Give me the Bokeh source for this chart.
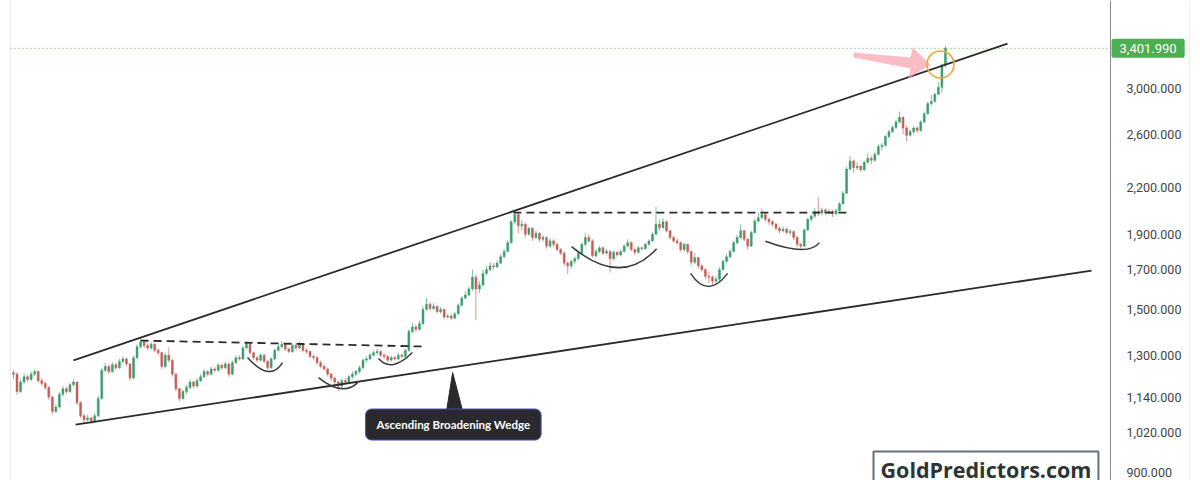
import numpy as np
from bokeh.plotting import figure
from bokeh.models import (ColumnDataSource, Range1d, FixedTicker,
                          NumeralTickFormatter, Span, Label)
from bokeh.embed import file_html
from bokeh.resources import INLINE

# ---- Gold (XAU/USD), two-week candles, 2015 -> April 2025 ----
first_open = 1230
close = [
    1225, 1160, 1195, 1215, 1205, 1225, 1235, 1200, 1190, 1175,
    1140, 1090, 1105, 1150, 1170, 1160, 1185, 1195, 1120, 1075,
    1062, 1068, 1058, 1075, 1135, 1240, 1255, 1235, 1262, 1250,
    1275, 1285, 1265, 1210, 1290, 1335, 1355, 1340, 1330, 1345,
    1320, 1310, 1255, 1300, 1280, 1225, 1170, 1135, 1160, 1175,
    1195, 1180, 1200, 1215, 1235, 1225, 1245, 1240, 1260, 1250,
    1265, 1225, 1270, 1290, 1285, 1330, 1345, 1310, 1290, 1280,
    1300, 1275, 1250, 1285, 1320, 1335, 1345, 1325, 1315, 1340,
    1330, 1345, 1320, 1315, 1295, 1290, 1270, 1255, 1245, 1225,
    1210, 1195, 1180, 1200, 1195, 1215, 1225, 1235, 1250, 1280,
    1285, 1300, 1310, 1315, 1300, 1295, 1280, 1290, 1285, 1300,
    1295, 1320, 1400, 1420, 1410, 1435, 1500, 1525, 1505, 1515,
    1490, 1500, 1465, 1470, 1460, 1480, 1520, 1555, 1570, 1600,
    1660, 1600, 1620, 1680, 1700, 1720, 1715, 1735, 1770, 1800,
    1850, 1975, 2020, 1950, 1960, 1900, 1935, 1880, 1905, 1870,
    1880, 1830, 1860, 1840, 1810, 1790, 1735, 1720, 1745, 1760,
    1790, 1840, 1880, 1860, 1775, 1800, 1820, 1790, 1800, 1760,
    1795, 1780, 1800, 1830, 1850, 1810, 1795, 1820, 1815, 1840,
    1860, 1900, 1960, 1940, 1975, 1920, 1880, 1860, 1850, 1810,
    1840, 1800, 1740, 1765, 1720, 1700, 1665, 1660, 1640, 1650,
    1700, 1745, 1770, 1800, 1850, 1880, 1920, 1870, 1830, 1910,
    1980, 2000, 2020, 1990, 1975, 1960, 1935, 1920, 1930, 1910,
    1915, 1880, 1840, 1830, 1925, 1990, 2010, 2040, 2030, 2050,
    2030, 2040, 2025, 2045, 2090, 2160, 2330, 2390, 2340, 2350,
    2325, 2380, 2410, 2395, 2440, 2500, 2510, 2580, 2620, 2655,
    2700, 2740, 2650, 2590, 2620, 2650, 2630, 2700, 2770, 2860,
    2880, 2945, 3010, 3230, 3401.99,
]
high = [
    1240, 1232, 1205, 1228, 1222, 1235, 1245, 1240, 1210, 1198,
    1180, 1145, 1115, 1158, 1180, 1178, 1192, 1205, 1198, 1125,
    1082, 1078, 1072, 1085, 1145, 1250, 1268, 1262, 1272, 1270,
    1285, 1295, 1290, 1270, 1298, 1345, 1372, 1362, 1350, 1355,
    1350, 1328, 1315, 1310, 1332, 1285, 1230, 1175, 1168, 1185,
    1205, 1200, 1210, 1225, 1245, 1240, 1255, 1252, 1268, 1265,
    1275, 1270, 1278, 1298, 1300, 1338, 1357, 1350, 1315, 1295,
    1308, 1305, 1280, 1292, 1328, 1345, 1358, 1350, 1332, 1348,
    1350, 1358, 1350, 1328, 1320, 1302, 1295, 1278, 1262, 1250,
    1230, 1215, 1200, 1208, 1210, 1222, 1235, 1242, 1258, 1288,
    1295, 1310, 1320, 1326, 1320, 1308, 1300, 1298, 1296, 1310,
    1308, 1328, 1410, 1438, 1430, 1448, 1515, 1555, 1535, 1530,
    1520, 1512, 1505, 1480, 1478, 1488, 1528, 1565, 1590, 1612,
    1700, 1675, 1640, 1700, 1720, 1740, 1735, 1750, 1785, 1815,
    1865, 1985, 2050, 2030, 1985, 1970, 1945, 1940, 1920, 1912,
    1895, 1885, 1875, 1870, 1850, 1820, 1800, 1745, 1755, 1770,
    1800, 1850, 1905, 1900, 1870, 1812, 1830, 1828, 1815, 1805,
    1805, 1800, 1812, 1840, 1870, 1858, 1815, 1830, 1828, 1848,
    1870, 1910, 2070, 1990, 1998, 1985, 1925, 1890, 1875, 1858,
    1850, 1845, 1805, 1790, 1770, 1728, 1708, 1690, 1670, 1665,
    1712, 1755, 1785, 1810, 1860, 1895, 1960, 1925, 1878, 1920,
    1995, 2035, 2060, 2030, 2000, 1985, 1968, 1945, 1945, 1938,
    1930, 1922, 1888, 1850, 1935, 2000, 2020, 2060, 2135, 2065,
    2060, 2055, 2048, 2060, 2100, 2175, 2345, 2430, 2400, 2380,
    2360, 2390, 2450, 2430, 2460, 2520, 2530, 2590, 2635, 2672,
    2720, 2790, 2750, 2670, 2640, 2665, 2665, 2715, 2790, 2880,
    2940, 2955, 3060, 3245, 3430,
]
low = [
    1205, 1150, 1155, 1188, 1195, 1198, 1218, 1192, 1180, 1165,
    1130, 1080, 1085, 1100, 1142, 1150, 1155, 1178, 1112, 1068,
    1052, 1055, 1048, 1052, 1070, 1130, 1232, 1225, 1230, 1240,
    1245, 1268, 1255, 1200, 1205, 1285, 1328, 1330, 1320, 1322,
    1312, 1300, 1245, 1248, 1270, 1215, 1160, 1125, 1130, 1150,
    1168, 1172, 1175, 1195, 1210, 1218, 1220, 1232, 1235, 1242,
    1245, 1215, 1220, 1265, 1278, 1280, 1325, 1302, 1282, 1272,
    1275, 1268, 1240, 1245, 1280, 1315, 1330, 1318, 1308, 1310,
    1322, 1325, 1312, 1305, 1288, 1280, 1262, 1248, 1238, 1215,
    1200, 1185, 1162, 1172, 1185, 1190, 1208, 1218, 1228, 1245,
    1272, 1280, 1295, 1302, 1292, 1285, 1272, 1275, 1278, 1280,
    1288, 1290, 1315, 1392, 1400, 1405, 1430, 1495, 1495, 1498,
    1482, 1480, 1455, 1458, 1452, 1455, 1475, 1515, 1548, 1565,
    1590, 1452, 1580, 1612, 1672, 1690, 1700, 1708, 1728, 1762,
    1795, 1845, 1960, 1905, 1920, 1880, 1890, 1860, 1870, 1855,
    1855, 1815, 1820, 1825, 1800, 1780, 1720, 1676, 1705, 1730,
    1752, 1782, 1830, 1850, 1765, 1765, 1790, 1780, 1782, 1685,
    1750, 1770, 1772, 1795, 1822, 1800, 1780, 1788, 1805, 1810,
    1832, 1855, 1895, 1920, 1930, 1910, 1868, 1850, 1838, 1800,
    1800, 1785, 1725, 1730, 1705, 1688, 1650, 1630, 1618, 1625,
    1640, 1695, 1735, 1762, 1795, 1840, 1870, 1860, 1810, 1825,
    1905, 1970, 1995, 1975, 1955, 1945, 1925, 1905, 1910, 1900,
    1895, 1865, 1825, 1815, 1825, 1918, 1975, 2000, 2010, 2015,
    2015, 2020, 2005, 2015, 2040, 2085, 2155, 2320, 2300, 2320,
    2310, 2315, 2370, 2365, 2385, 2430, 2470, 2500, 2565, 2610,
    2640, 2690, 2600, 2540, 2580, 2600, 2610, 2620, 2690, 2760,
    2840, 2870, 2960, 2960, 3200,
]

last_price = 3401.99
last_price_text = "3,401.990"
price_ticks = [900, 1020, 1140, 1300, 1500, 1700, 1900, 2200, 2600, 3000, 4000]

# ---- pane geometry in bar units ----
view_start, view_end = -0.85, 336.26   # visible bar span, price scale included
scale_at = 310.76                     # where the price scale sits
scale_edge = 333.1                    # faint right edge of the price scale

# ---- pattern drawing: (bar index, price) anchor points ----
upper_wedge_x, upper_wedge_y = [17.0, 281.6], [1279, 3453]
lower_wedge_x, lower_wedge_y = [17.6, 305.4], [1046, 1695]
neck_2016_x, neck_2016_y = [36.0, 115.9], [1361, 1336]
neck_2020_x, neck_2020_y = [141.6, 236.5], [2033, 2033]
# rounded bottoms: start, control, end
cup_x0 = [66.3, 86.4, 103.4, 158.1, 191.8, 213.0]
cup_y0 = [1291, 1212, 1287, 1827, 1680, 1858]
cup_cx = [72.7, 93.3, 107.1, 172.1, 196.7, 225.2]
cup_cy = [1192, 1140, 1228, 1607, 1548, 1768]
cup_x1 = [76.2, 97.5, 113.0, 182.2, 202.3, 228.3]
cup_y1 = [1270, 1193, 1311, 1815, 1680, 1850]
# highlight arrow and ring at the wedge break
arrow_x = [237.96, 254.1, 254.7, 259.8, 253.5, 254.1, 237.96]
arrow_y = [3358, 3305, 3411, 3234, 3095, 3193, 3305]
ring_x, ring_y = [262.6], [3234]
# callout for the pattern name
callout_x, callout_y = 124.6, 1046
pointer_x = [124.4, 122.7, 127.2]
pointer_y = [1231, 1093, 1093]

# ---- candle table ----
n = len(close)
idx = np.arange(n)
c = np.array(close, dtype=float)
o = np.concatenate([[first_open], c[:-1]])          # each bar opens at the prior close
h = np.maximum(np.array(high, dtype=float), np.maximum(o, c))
l = np.minimum(np.array(low, dtype=float), np.minimum(o, c))
up = c >= o
UP, DOWN = "#3a9d6c", "#c45e58"
src = ColumnDataSource(dict(
    x=idx, top=np.maximum(o, c), bottom=np.minimum(o, c), high=h, low=l,
    color=np.where(up, UP, DOWN),
))

p = figure(
    width=1200, height=480, y_axis_type="log",
    x_range=Range1d(view_start, view_end), y_range=Range1d(877.7, 3952),
    x_axis_location=None, y_axis_location="right",
    output_backend="svg", toolbar_location=None,
    min_border_left=10, min_border_right=0, min_border_top=0, min_border_bottom=0,
)
p.outline_line_color = None
p.grid.grid_line_color = None
p.background_fill_color = "white"
p.border_fill_color = "white"

# price scale drawn at a fixed spot inside the pane
ax = p.yaxis[0]
ax.fixed_location = scale_at
ax.ticker = FixedTicker(ticks=price_ticks)
ax.formatter = NumeralTickFormatter(format="0,0.000")
ax.major_tick_line_color = None
ax.minor_tick_line_color = None
ax.axis_line_color = "#8a8a8a"
ax.major_label_text_font = "Roboto"
ax.major_label_text_font_size = "12.5px"
ax.major_label_text_color = "#444444"
ax.major_label_standoff = 10

# faint pane edges
p.add_layout(Span(location=view_start, dimension="height", line_color="#d8d8d8", line_width=1))
p.add_layout(Span(location=scale_edge, dimension="height", line_color="#ececec", line_width=1))
# last-price dotted line across the chart area
p.line([view_start, scale_at], [last_price, last_price], line_color="#4caf50",
       line_dash="1 3", line_width=1)

# candles
p.segment(x0="x", y0="low", x1="x", y1="high", source=src, line_color="color",
          line_alpha=0.65, line_width=1)
p.vbar(x="x", top="top", bottom="bottom", width=0.55, source=src,
       fill_color="color", line_color="color", line_width=0.5)

# wedge boundaries and necklines
p.line(upper_wedge_x, upper_wedge_y, line_color="#2b2b2b", line_width=1.8)
p.line(lower_wedge_x, lower_wedge_y, line_color="#2b2b2b", line_width=1.8)
p.line(neck_2016_x, neck_2016_y, line_color="#2b2b2b", line_width=1.8, line_dash="8 5")
p.line(neck_2020_x, neck_2020_y, line_color="#2b2b2b", line_width=1.8, line_dash="8 5")
p.quadratic(x0=cup_x0, y0=cup_y0, x1=cup_x1, y1=cup_y1, cx=cup_cx, cy=cup_cy,
            line_color="#3a3a3a", line_width=1.5)

# break-out highlight
p.patch(arrow_x, arrow_y, fill_color="#f7a8b2", fill_alpha=0.75, line_color=None)
p.scatter(ring_x, ring_y, marker="circle", size=27, fill_color=None,
          line_color="#f5a33a", line_width=1.6)

# pattern callout
p.patch(pointer_x, pointer_y, fill_color="#2a2a2e", line_color="#2a2a2e")
p.add_layout(Label(
    x=callout_x, y=callout_y, text="Ascending Broadening Wedge",
    text_align="center", text_baseline="middle",
    text_font="Lato", text_font_style="bold", text_font_size="11.5px",
    text_color="white", background_fill_color="#2a2a2e",
    border_line_color="#4b4bd0", border_line_width=1, border_radius=6,
    padding=dict(x=11, y=9),
))

# last-price tag on the price scale
p.add_layout(Label(
    x=scale_at + 0.3, y=last_price, text=last_price_text,
    text_align="left", text_baseline="middle",
    text_font="Roboto", text_font_size="13px", text_color="white",
    background_fill_color="#4caf50", padding=dict(x=8, y=5), border_radius=2,
))

# site mark
p.add_layout(Label(
    x=863, x_units="screen", y=29, y_units="screen", text="GoldPredictors.com",
    text_align="left", text_baseline="top",
    text_font="Open Sans", text_font_style="bold", text_font_size="21.5px",
    text_color="#2d3436", background_fill_color="white",
    border_line_color="#62717f", border_line_width=2, padding=dict(x=7, y=3),
))

open("out.html", "w").write(file_html(p, INLINE))
